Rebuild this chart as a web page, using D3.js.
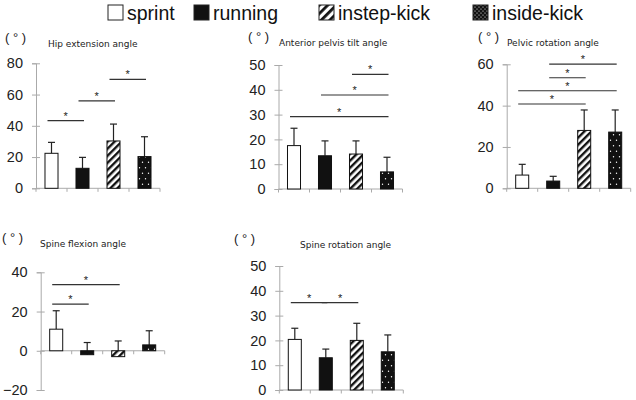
<!DOCTYPE html>
<html>
<head>
<meta charset="utf-8">
<script src="https://cdn.jsdelivr.net/npm/d3@7"></script>
<style>
  body { margin: 0; background: #fff; }
</style>
</head>
<body>
<div id="chart"></div>
<script>
const width = 636;
const height = 400;

const categories = ['sprint', 'running', 'instep-kick', 'inside-kick'];
const titles = ['Hip extension angle', 'Anterior pelvis tilt angle', 'Pelvic rotation angle',
  'Spine flexion angle', 'Spine rotation angle'];

// means, SDs (upper error bar) and significance bars [from, to, level]
const hipMean = [22.4, 12.8, 30.3, 20.3];
const hipSD = [7.0, 7.0, 10.8, 12.7];
const hipSig = [[0, 1, 43.3], [1, 2, 56], [2, 3, 69.7]];

const tiltMean = [17.5, 13.4, 14.1, 6.9];
const tiltSD = [7.0, 6.0, 5.3, 5.9];
const tiltSig = [[0, 3, 29.2], [1, 3, 37.9], [2, 3, 46.2]];

const pelvRotMean = [6.4, 3.5, 28.0, 27.2];
const pelvRotSD = [5.2, 2.3, 9.9, 10.7];
const pelvRotSig = [[0, 2, 40.8], [0, 3, 47.2], [1, 2, 53.5], [1, 3, 60.1]];

const spineFlexMean = [11.0, -2.0, -3.0, 3.0];
const spineFlexSD = [9.4, 6.2, 8.0, 7.2];
const spineFlexSig = [[0, 2, 33.7], [0, 1, 23.8]];

const spineRotMean = [20.4, 13.0, 20.0, 15.4];
const spineRotSD = [4.5, 3.5, 6.9, 6.8];
const spineRotSig = [[0, 1, 35.2], [1, 2, 35.2]];

const yTicks = [
  [0, 20, 40, 60, 80],
  [0, 10, 20, 30, 40, 50],
  [0, 20, 40, 60],
  [-20, 0, 20, 40],
  [0, 10, 20, 30, 40, 50],
];

const panels = [
  {mean: hipMean, sd: hipSD, sig: hipSig, ticks: yTicks[0], title: titles[0],
    ax: 36, yr: [188.3, 63.3], unit: [5, 38], tx: 48},
  {mean: tiltMean, sd: tiltSD, sig: tiltSig, ticks: yTicks[1], title: titles[1],
    ax: 278.5, yr: [189, 65], unit: [248, 37], tx: 279},
  {mean: pelvRotMean, sd: pelvRotSD, sig: pelvRotSig, ticks: yTicks[2], title: titles[2],
    ax: 506.7, yr: [188.3, 64.3], unit: [478, 37], tx: 507},
  {mean: spineFlexMean, sd: spineFlexSD, sig: spineFlexSig, ticks: yTicks[3], title: titles[3],
    ax: 40.7, yr: [390, 272.3], unit: [2, 238], tx: 40},
  {mean: spineRotMean, sd: spineRotSD, sig: spineRotSig, ticks: yTicks[4], title: titles[4],
    ax: 279.3, yr: [390, 266], unit: [234, 239], tx: 300},
];

const svg = d3.select('#chart').append('svg')
  .attr('width', width)
  .attr('height', height)
  .style('font-family', 'Liberation Sans, Arial, sans-serif');

svg.append('rect').attr('width', width).attr('height', height).attr('fill', '#fff');

const defs = svg.append('defs');

function hatch(id, size, stroke) {
  const p = defs.append('pattern')
    .attr('id', id)
    .attr('patternUnits', 'userSpaceOnUse')
    .attr('width', size).attr('height', size)
    .attr('patternTransform', 'rotate(45)');
  p.append('rect').attr('width', size).attr('height', size).attr('fill', '#fff');
  p.append('rect').attr('width', stroke).attr('height', size).attr('fill', '#111');
}
function dots(id, w, h, r) {
  const p = defs.append('pattern')
    .attr('id', id)
    .attr('patternUnits', 'userSpaceOnUse')
    .attr('width', w).attr('height', h);
  p.append('rect').attr('width', w).attr('height', h).attr('fill', '#111');
  p.append('circle').attr('cx', w * 0.25).attr('cy', h * 0.25).attr('r', r).attr('fill', '#fff');
  p.append('circle').attr('cx', w * 0.75).attr('cy', h * 0.75).attr('r', r).attr('fill', '#fff');
}
hatch('hatch', 5, 2.4);
dots('dots', 6, 11, 0.7);
hatch('hatchL', 6, 2.8);
dots('dotsL', 4, 4, 0.6);

const fills = ['#fff', '#111', 'url(#hatch)', 'url(#dots)'];
const legendFills = ['#fff', '#111', 'url(#hatchL)', 'url(#dotsL)'];

// legend
const legendX = [108, 194, 319, 473];
const legend = svg.append('g');
categories.forEach((c, i) => {
  legend.append('rect')
    .attr('x', legendX[i]).attr('y', 5)
    .attr('width', 15).attr('height', 15)
    .attr('fill', legendFills[i])
    .attr('stroke', '#222').attr('stroke-width', 1);
  legend.append('text')
    .attr('x', legendX[i] + 19).attr('y', 19.5)
    .attr('font-size', 19.5)
    .attr('fill', '#111')
    .text(c);
});

panels.forEach((p) => {
  const g = svg.append('g');
  const step = 31;
  const x = d3.scaleBand()
    .domain(categories)
    .range([p.ax, p.ax + step * categories.length])
    .paddingInner(0.58)
    .paddingOuter(0.29);
  const y = d3.scaleLinear()
    .domain(d3.extent(p.ticks))
    .range(p.yr);

  // labels
  g.append('text')
    .attr('x', p.unit[0]).attr('y', p.unit[1] + 4)
    .attr('font-size', 13)
    .attr('fill', '#222')
    .text('( ° )');
  g.append('text')
    .attr('x', p.tx).attr('y', p.unit[1] + 8.5)
    .attr('font-family', 'DejaVu Sans')
    .attr('font-size', 9)
    .attr('fill', '#222')
    .text(p.title);

  // y axis
  const yAxis = g.append('g')
    .attr('transform', `translate(${p.ax},0)`)
    .call(d3.axisLeft(y).tickValues(p.ticks).tickSize(4).tickPadding(9));
  yAxis.select('.domain').attr('stroke', '#aaa');
  yAxis.selectAll('.tick line').attr('stroke', '#aaa').attr('x2', 4).attr('x1', -4);
  yAxis.selectAll('.tick text')
    .attr('font-family', 'Liberation Sans, Arial, sans-serif')
    .attr('font-size', 14.5)
    .attr('fill', '#222');

  // x axis at zero
  const y0 = y(0);
  g.append('line')
    .attr('x1', p.ax).attr('x2', x.range()[1])
    .attr('y1', y0).attr('y2', y0)
    .attr('stroke', '#aaa');
  d3.range(categories.length + 1).forEach((i) => {
    const xt = p.ax + i * x.step();
    g.append('line')
      .attr('x1', xt).attr('x2', xt)
      .attr('y1', y0).attr('y2', y0 + 3.5)
      .attr('stroke', '#aaa');
  });

  // error bars
  categories.forEach((c, i) => {
    const cx = x(c) + x.bandwidth() / 2;
    const top = y(p.mean[i] + p.sd[i]);
    g.append('line')
      .attr('x1', cx).attr('x2', cx)
      .attr('y1', y(p.mean[i])).attr('y2', top)
      .attr('stroke', '#222').attr('stroke-width', 1.2);
    g.append('line')
      .attr('x1', cx - 3.5).attr('x2', cx + 3.5)
      .attr('y1', top).attr('y2', top)
      .attr('stroke', '#222').attr('stroke-width', 1.2);
  });

  // bars
  g.selectAll('rect.bar')
    .data(categories)
    .join('rect')
    .attr('class', 'bar')
    .attr('x', (d) => x(d))
    .attr('width', x.bandwidth())
    .attr('y', (d, i) => Math.min(y(p.mean[i]), y0))
    .attr('height', (d, i) => Math.abs(y(p.mean[i]) - y0))
    .attr('fill', (d, i) => fills[i])
    .attr('stroke', '#111')
    .attr('stroke-width', 1);

  // significance
  p.sig.forEach(([a, b, lev]) => {
    const x1 = x(categories[a]) + x.bandwidth() / 2 - 4;
    const x2 = x(categories[b]) + x.bandwidth() / 2 + 1.5;
    const ly = y(lev);
    g.append('line')
      .attr('x1', x1).attr('x2', x2)
      .attr('y1', ly).attr('y2', ly)
      .attr('stroke', '#333').attr('stroke-width', 1.2);
    g.append('text')
      .attr('x', (x1 + x2) / 2).attr('y', ly - 1)
      .attr('text-anchor', 'middle')
      .attr('font-size', 11)
      .attr('fill', '#222')
      .text('*');
  });
});
</script>
</body>
</html>
